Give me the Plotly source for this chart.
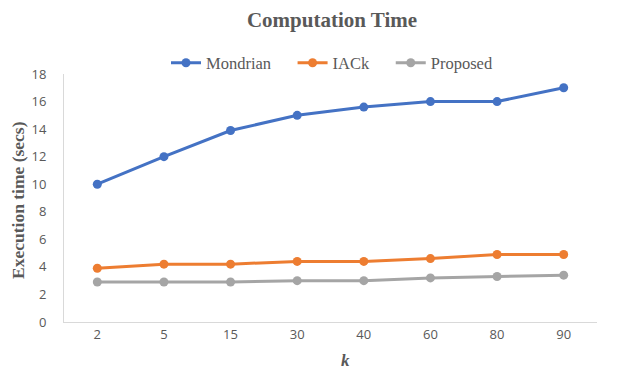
import plotly.graph_objects as go

categories = ["2", "5", "15", "30", "40", "60", "80", "90"]
mondrian = [10.0, 12.0, 13.9, 15.0, 15.6, 16.0, 16.0, 17.0]
iack = [3.9, 4.2, 4.2, 4.4, 4.4, 4.6, 4.9, 4.9]
proposed = [2.9, 2.9, 2.9, 3.0, 3.0, 3.2, 3.3, 3.4]
y_ticks = [0, 2, 4, 6, 8, 10, 12, 14, 16, 18]

series = [("Mondrian\u00a0\u00a0\u00a0\u00a0", mondrian, "#4472C4"),
          ("IACk\u00a0\u00a0\u00a0\u00a0", iack, "#ED7D31"),
          ("Proposed", proposed, "#A5A5A5")]

fig = go.Figure()
for name, vals, color in series:
    fig.add_trace(go.Scatter(x=categories, y=vals, name=name, mode="lines+markers",
                             line=dict(color=color, width=3),
                             marker=dict(color=color, size=9)))

# page body adds an 8px offset; work in shifted coordinates
OFF = 8
W, H = 623 - OFF, 371 - OFF
ml, mr = 64 - OFF, 623 - 597
mt, mb = 74 - OFF, 371 - 322
PW, PH = W - ml - mr, H - mt - mb
fig.update_layout(
    width=W, height=H,
    margin=dict(l=ml, r=mr, t=mt, b=mb, autoexpand=False),
    paper_bgcolor="white", plot_bgcolor="white",
    title=dict(text="<b>Computation Time</b>", x=(332 - OFF) / W, xanchor="center",
               y=1 - (20 - OFF) / H, yanchor="middle",
               font=dict(family="Liberation Serif", size=21, color="#595959")),
    legend=dict(orientation="h", xref="container", x=(166 - OFF) / W, xanchor="left",
                yref="container", y=1 - (63 - OFF) / H, yanchor="middle",
                font=dict(family="Liberation Serif", size=16.5, color="#595959"),
                itemwidth=30, bgcolor="rgba(0,0,0,0)"),
    xaxis=dict(type="category", range=[-0.5, 7.5], showgrid=False, showline=True, linecolor="#D9D9D9",
               linewidth=1, ticks="", tickfont=dict(family="Open Sans", size=13, color="#595959"),
               zeroline=False),
    yaxis=dict(range=[0, 18], tickvals=y_ticks, showgrid=False, showline=True, linecolor="#D9D9D9",
               linewidth=1, ticks="", ticklabelstandoff=14,
               tickfont=dict(family="Open Sans", size=13, color="#595959"), zeroline=False),
    showlegend=True,
)
fig.add_annotation(text="<b><i>k</i></b>", xref="paper", yref="paper", x=(345 - 64) / PW,
                   y=-(360 - 322) / PH, showarrow=False, xanchor="center", yanchor="middle",
                   font=dict(family="Liberation Serif", size=17, color="#595959"))
fig.add_annotation(text="<b>Execution time (secs)</b>", xref="paper", yref="paper", x=(18 - 64) / PW,
                   y=(322 - 200) / PH, textangle=-90, showarrow=False, xanchor="center", yanchor="middle",
                   font=dict(family="Liberation Serif", size=17.5, color="#595959"))
fig.write_html("out.html")
